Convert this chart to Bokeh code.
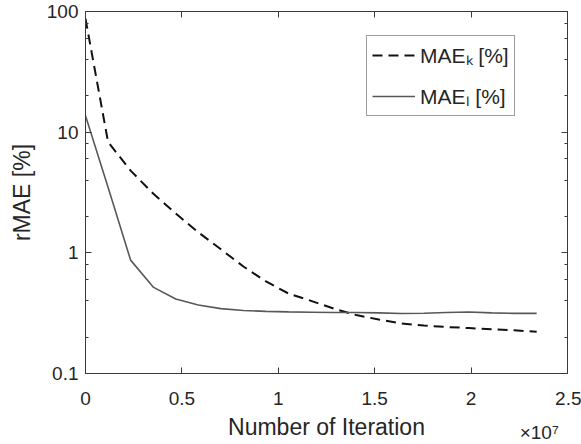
from bokeh.plotting import figure
from bokeh.models import (LogAxis, LinearAxis, FixedTicker, LogTicker, Legend,
                          LegendItem, Range1d)
from bokeh.embed import file_html
from bokeh.resources import INLINE

# ---- data ----
iterations = [0, 1.17e6, 2.34e6, 3.51e6, 4.68e6, 5.85e6, 7.02e6, 8.19e6, 9.36e6,
              1.053e7, 1.17e7, 1.287e7, 1.404e7, 1.521e7, 1.638e7, 1.755e7,
              1.872e7, 1.989e7, 2.106e7, 2.223e7, 2.34e7]
mae_k = [87, 8.3, 4.8, 3.1, 2.12, 1.48, 1.07, 0.77, 0.58, 0.46, 0.40, 0.345,
         0.305, 0.28, 0.26, 0.25, 0.243, 0.238, 0.233, 0.228, 0.222]
mae_l = [13.7, 3.5, 0.87, 0.52, 0.415, 0.37, 0.345, 0.333, 0.327, 0.324, 0.322,
         0.32, 0.32, 0.318, 0.314, 0.316, 0.32, 0.323, 0.318, 0.315, 0.315]
x_ticks = [0, 5e6, 1e7, 1.5e7, 2e7, 2.5e7]
x_tick_labels = ["0", "0.5", "1", "1.5", "2", "2.5"]
x_exponent = "\u00d710\u2077"
y_ticks = [0.1, 1, 10, 100]
y_tick_labels = ["0.1", "1", "10", "100"]
label_k = "MAE\u2096 [%]"
label_l = "MAE\u2097 [%]"

FONT = "Liberation Sans"
AX = "#3a3a3a"
TXT = "#262626"
NBSP = "\u00a0"

p = figure(width=581, height=444, output_backend="svg", toolbar_location=None,
           y_axis_type="log", x_range=Range1d(0, 2.5e7), y_range=Range1d(0.1, 100),
           min_border_left=85, min_border_right=14, min_border_top=11,
           min_border_bottom=71)
p.background_fill_color = "white"
p.border_fill_color = "white"
p.outline_line_color = AX
p.outline_line_width = 1
p.xgrid.visible = False
p.ygrid.visible = False

r_k = p.line(iterations, mae_k, line_color="#111111", line_width=2, line_dash="10 6")
r_l = p.line(iterations, mae_l, line_color="#585858", line_width=1.6)

# bottom axis; the exponent is carried as a second line under the last tick
xa = p.xaxis[0]
xa.ticker = FixedTicker(ticks=x_ticks, minor_ticks=[])
overrides = {t: l for t, l in zip(x_ticks, x_tick_labels)}
overrides[x_ticks[-1]] = NBSP * 7 + x_tick_labels[-1] + "\n" + x_exponent + NBSP * 4
xa.major_label_overrides = overrides
xa.axis_label = "Number of Iteration"
# left axis
ya = p.yaxis[0]
ya.ticker = LogTicker(desired_num_ticks=4)
ya.major_label_overrides = {t: l for t, l in zip(y_ticks, y_tick_labels)}
ya.axis_label = "rMAE [%]"

for ax in (xa, ya):
    ax.axis_line_color = AX
    ax.major_tick_line_color = AX
    ax.minor_tick_line_color = AX
    ax.major_tick_in = 6
    ax.major_tick_out = 0
    ax.minor_tick_in = 3
    ax.minor_tick_out = 0
    ax.major_label_text_font = FONT
    ax.major_label_text_font_size = "19px"
    ax.major_label_text_color = TXT
    ax.axis_label_text_font = FONT
    ax.axis_label_text_font_size = "23px"
    ax.axis_label_text_font_style = "normal"
    ax.axis_label_text_color = TXT
xa.major_label_text_line_height = 1.65
xa.major_label_standoff = 14
xa.axis_label_standoff = -32
ya.major_label_standoff = 7
ya.axis_label_standoff = 9

# mirrored axes (box with ticks on all sides)
top = LinearAxis(ticker=FixedTicker(ticks=x_ticks, minor_ticks=[]))
right = LogAxis(ticker=LogTicker(desired_num_ticks=4))
for ax in (top, right):
    ax.axis_line_color = AX
    ax.major_tick_line_color = AX
    ax.minor_tick_line_color = AX
    ax.major_tick_in = 6
    ax.major_tick_out = 0
    ax.minor_tick_in = 3
    ax.minor_tick_out = 0
    ax.major_label_text_font_size = "1px"
    ax.major_label_text_alpha = 0
    ax.major_label_standoff = 0
top.minor_tick_line_color = None
p.add_layout(top, "above")
p.add_layout(right, "right")

legend = Legend(items=[LegendItem(label=label_k, renderers=[r_k]),
                       LegendItem(label=label_l, renderers=[r_l])],
                location=(281, 257), padding=5, spacing=13, glyph_width=43,
                label_standoff=5, margin=0,
                label_text_font=FONT, label_text_font_size="21px",
                label_text_color=TXT, border_line_color=AX, border_line_width=1,
                background_fill_alpha=1)
p.add_layout(legend, "center")

open("out.html", "w").write(file_html(p, INLINE))
